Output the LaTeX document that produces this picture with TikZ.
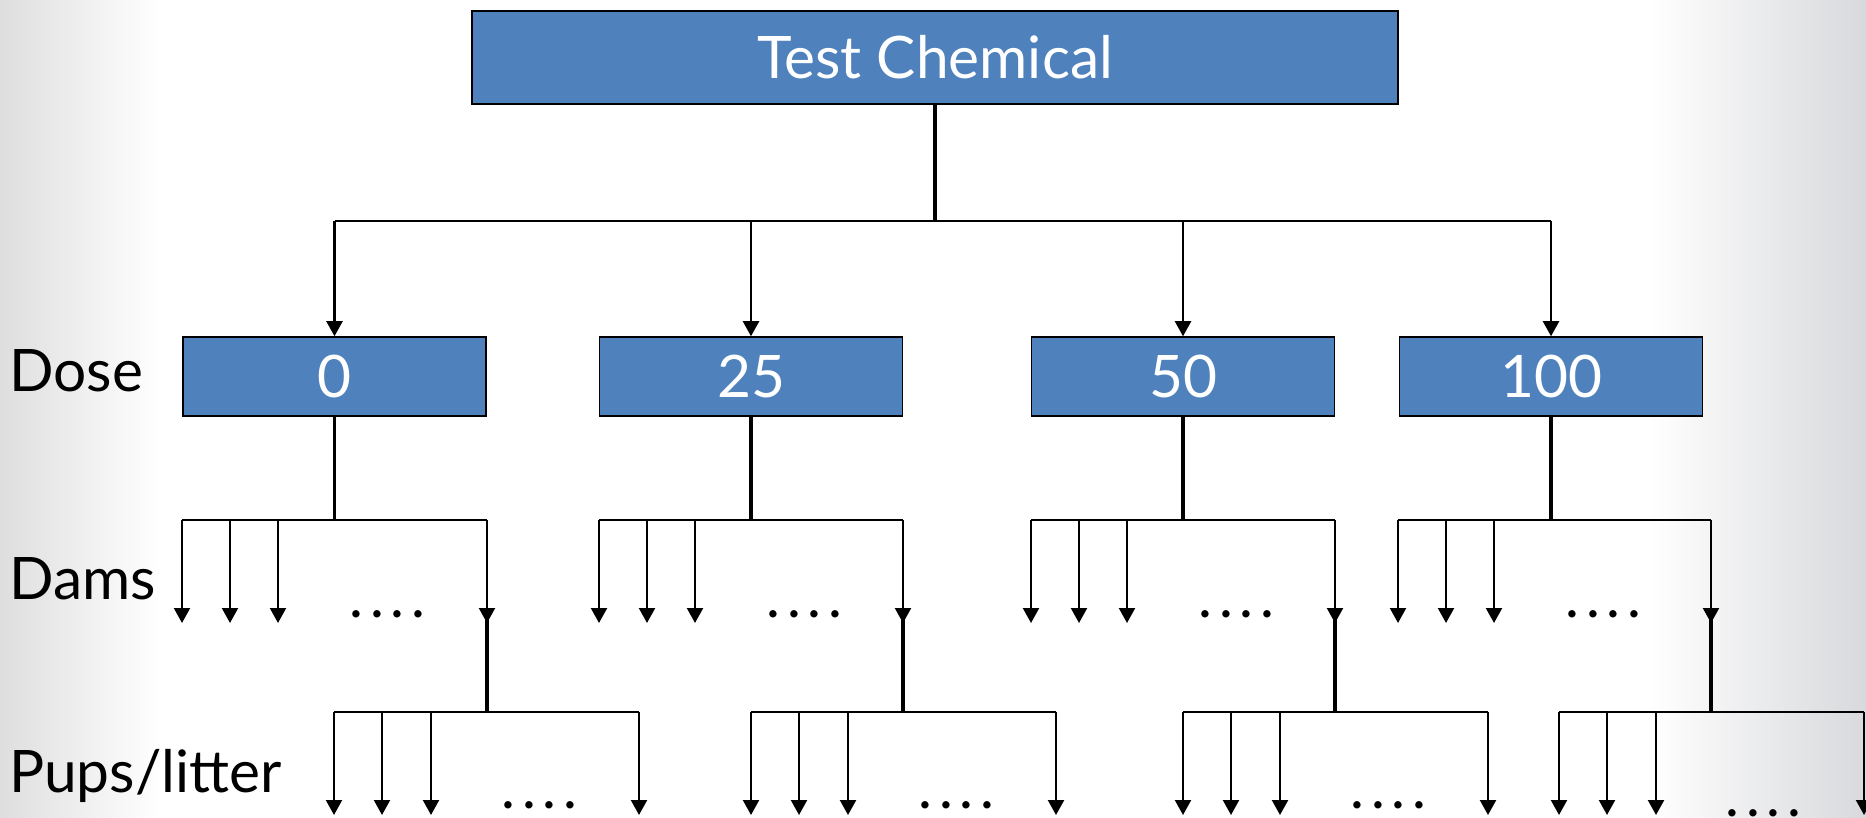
\documentclass[tikz,border=0pt]{standalone}
\usepackage{fontspec}
\setmainfont{Lato}
\usetikzlibrary{arrows.meta}

\definecolor{boxblue}{HTML}{4F81BD}
\definecolor{edgegrayL}{RGB}{222,222,222}
\definecolor{edgegrayR}{RGB}{216,217,220}

\newcommand{\bigfont}{\fontsize{58.6}{70}\selectfont}
\newcommand{\fourdots}{.\kern7pt.\kern7pt.\kern7pt.}

\tikzset{
  labeltext/.style={font=\bigfont, anchor=base west, inner sep=0pt},
  boxbase/.style={draw=black, fill=boxblue, text=white, font=\bigfont,
    inner sep=0pt, text height=42pt, text depth=0pt},
  topbox/.style={boxbase, line width=2.5pt, minimum width=926pt, minimum height=93pt},
  dosebox/.style={boxbase, line width=1.5pt, minimum width=303pt, minimum height=79pt},
  trunk/.style={line width=3.5pt},
  bar/.style={line width=2.8pt},
  branch/.style={line width=2.2pt, -{Triangle[width=16pt,length=15pt]}},
  dotrow/.style={font=\bigfont, anchor=base, inner sep=0pt},
}

\begin{document}
\begin{tikzpicture}[x=1pt, y=-1pt]
  \useasboundingbox (0,0) rectangle (1866,818);
  % soft grey side bands of the slide background
  \shade[left color=edgegrayL, right color=white] (0,0) rectangle (160,818);
  \shade[left color=white, right color=edgegrayR] (1650,0) rectangle (1866,818);

  % row labels
  \node[labeltext] (lblDose) at (9,391) {Dose};
  \node[labeltext] (lblDams) at (9,599) {Dams};
  \node[labeltext] (lblPups) at (9,792) {Pups/litter};

  % test chemical and the four dose groups
  \node[topbox] (tc) at (935,57.5) {Test Chemical};
  \coordinate (split) at (935,221);
  \draw[trunk] (tc.south) -- (split);

  \foreach \i/\cx/\val in {0/334.5/0, 1/751/25, 2/1183/50, 3/1551/100} {
    \node[dosebox] (d\i) at (\cx,376.5) {\val};
  }
  \draw[bar] (d0.north |- split) -- (d3.north |- split);
  \foreach \i in {0,...,3} {
    \draw[branch] (d\i.north |- split) -- (d\i.north);
  }

  % dams per dose group, and pups per litter of the last dam
  \foreach \i/\l/\r/\p in {0/182/487/334, 1/599/903/751, 2/1031/1335/1183, 3/1398/1711/1559} {
    \coordinate (damrow\i) at (d\i.south |- 0,520);
    \draw[trunk] (d\i.south) -- (damrow\i);
    \draw[bar] (\l,520) -- (\r,520);
    \foreach \k/\dx in {1/0, 2/48, 3/96} {
      \coordinate (damtop\i-\k) at (\l+\dx,520);
      \coordinate (dam\i-\k) at (\l+\dx,623);
      \draw[branch] (damtop\i-\k) -- (dam\i-\k);
    }
    \coordinate (damtop\i-4) at (\r,520);
    \coordinate (dam\i-4) at (\r,623);
    \draw[branch] (damtop\i-4) -- (dam\i-4);
    \node[dotrow] (damdots\i) at (\l+205.5,617) {\fourdots};

    % litter of the last dam
    \coordinate (litter\i) at (\r,712);
    \draw[trunk] ([yshift=8pt]dam\i-4) -- (litter\i);
    \draw[bar] (\p,712) -- (\p+305,712);
    \foreach \k/\dx in {1/0, 2/48, 3/97, 4/305} {
      \coordinate (puptop\i-\k) at (\p+\dx,712);
      \coordinate (pup\i-\k) at (\p+\dx,815);
      \draw[branch] (puptop\i-\k) -- (pup\i-\k);
    }
  }
  \node[dotrow] (pupdots0) at (539.5,808.5) {\fourdots};
  \node[dotrow] (pupdots1) at (956.5,808.5) {\fourdots};
  \node[dotrow] (pupdots2) at (1388.5,808.5) {\fourdots};
  \node[dotrow] (pupdots3) at (1763.5,816.5) {\fourdots};
\end{tikzpicture}
\end{document}
